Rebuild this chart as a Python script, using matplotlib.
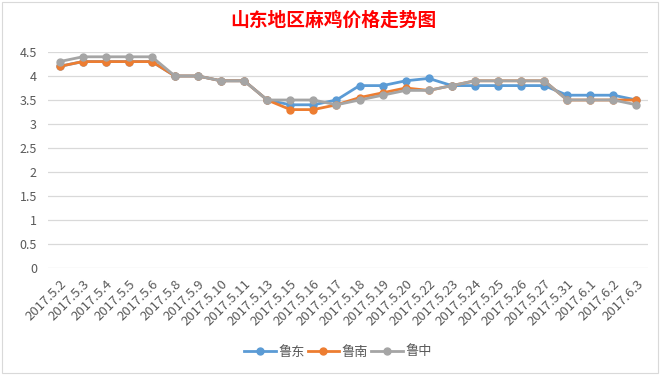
import matplotlib
matplotlib.use("Agg")
import matplotlib.pyplot as plt
from matplotlib.patches import Rectangle

plt.rcParams['font.family'] = ['Noto Sans CJK SC', 'DejaVu Sans']

dates = ["2017.5.2", "2017.5.3", "2017.5.4", "2017.5.5", "2017.5.6", "2017.5.8",
         "2017.5.9", "2017.5.10", "2017.5.11", "2017.5.13", "2017.5.15", "2017.5.16",
         "2017.5.17", "2017.5.18", "2017.5.19", "2017.5.20", "2017.5.22", "2017.5.23",
         "2017.5.24", "2017.5.25", "2017.5.26", "2017.5.27", "2017.5.31", "2017.6.1",
         "2017.6.2", "2017.6.3"]
ludong = [4.2, 4.3, 4.3, 4.3, 4.3, 4.0, 4.0, 3.9, 3.9, 3.5, 3.4, 3.4, 3.5, 3.8,
          3.8, 3.9, 3.95, 3.8, 3.8, 3.8, 3.8, 3.8, 3.6, 3.6, 3.6, 3.5]
lunan = [4.2, 4.3, 4.3, 4.3, 4.3, 4.0, 4.0, 3.9, 3.9, 3.5, 3.3, 3.3, 3.4, 3.55,
         3.65, 3.75, 3.7, 3.8, 3.9, 3.9, 3.9, 3.9, 3.5, 3.5, 3.5, 3.5]
luzhong = [4.3, 4.4, 4.4, 4.4, 4.4, 4.0, 4.0, 3.9, 3.9, 3.5, 3.5, 3.5, 3.4, 3.5,
           3.6, 3.7, 3.7, 3.8, 3.9, 3.9, 3.9, 3.9, 3.5, 3.5, 3.5, 3.4]
yticks = [0, 0.5, 1, 1.5, 2, 2.5, 3, 3.5, 4, 4.5]

fig = plt.figure(figsize=(6.66, 3.75), dpi=100)
ax = fig.add_axes([48/666, 1-268/375, 600/666, 216/375])

x = list(range(len(dates)))
ax.plot(x, ludong, color='#5B9BD5', lw=2, marker='o', ms=5, label='鲁东')
ax.plot(x, lunan, color='#ED7D31', lw=2, marker='o', ms=5, label='鲁南')
ax.plot(x, luzhong, color='#A5A5A5', lw=2, marker='o', ms=5, label='鲁中')

ax.set_xlim(-0.5, len(dates) - 0.5)
ax.set_ylim(0, 4.5)
ax.set_yticks(yticks)
ax.set_yticklabels([('%g' % v) for v in yticks], fontsize=9, color='#595959')
ax.set_xticks(x)
ax.set_xticklabels(dates, rotation=45, ha='right', rotation_mode='anchor',
                   fontsize=9.5, color='#595959')
ax.tick_params(axis='x', length=0, pad=7)
ax.tick_params(axis='y', length=0, pad=8)
ax.grid(axis='y', color='#D9D9D9', lw=0.9)
ax.set_axisbelow(True)
for s in ax.spines.values():
    s.set_visible(False)

fig.text(0.5, 1-20/375, '山东地区麻鸡价格走势图', ha='center', va='center',
         fontsize=13.5, fontweight='bold', color='#FF0000')

ax.legend(loc='center', bbox_to_anchor=(338/666, 1-352/375),
          bbox_transform=fig.transFigure, ncol=3, frameon=False, fontsize=9.5,
          handlelength=2.4, handletextpad=0.2, columnspacing=0.2,
          labelcolor='#595959')

fig.patches.append(Rectangle((2/666, 2/375), 656/666, 371/375, transform=fig.transFigure,
                             fill=False, edgecolor='#D9D9D9', lw=0.8))

fig.savefig('out.png', dpi=100)
